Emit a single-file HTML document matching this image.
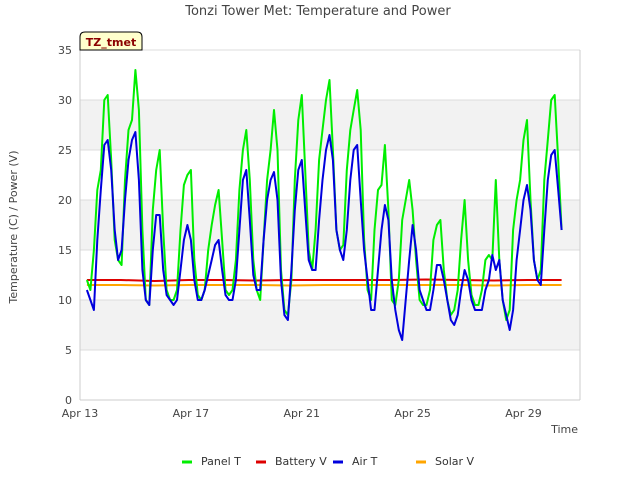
<!DOCTYPE html>
<html><head><meta charset="utf-8"><style>
body{margin:0;background:#fff;font-family:"Liberation Sans","DejaVu Sans",sans-serif}
</style></head><body>
<svg id="chart" width="640" height="480" font-family="DejaVu Sans, Liberation Sans, sans-serif">
<text x="318" y="15" font-size="13" fill="#444" text-anchor="middle">Tonzi Tower Met: Temperature and Power</text>
<g id="plot"></g>
<g>
<path d="M80,50 L80,37 Q80,32 85,32 L137,32 Q142,32 142,37 L142,50 Z" fill="#ffffcc" stroke="#000" stroke-width="1"/>
<text x="111" y="46" font-size="11" font-weight="bold" fill="#8b0000" text-anchor="middle">TZ_tmet</text>
</g>
<text transform="translate(17,227) rotate(-90)" font-size="11" fill="#444" text-anchor="middle">Temperature (C) / Power (V)</text>
<text x="578" y="433" font-size="11" fill="#444" text-anchor="end">Time</text>
<g id="legend"></g>
</svg>
<script>
const startDay=0.25, stepDay=0.125;
const panelT=[12,11,15,21,23,30,30.5,24,16,14,13.5,22,27,28,33,29,17,10,9.5,19,23,25,17,11,10,10,11,17,21.5,22.5,23,14,10.5,10,11,15,17.5,19.5,21,16,11,10.5,11,14,21,25,27,22,14,11,10,16,22,25,29,25,13,9,8.5,12,22,28,30.5,23,15,13,17,24,27,30,32,25,17,15,15.5,23,27,29,31,27,16,11,10,17,21,21.5,25.5,19,10,9.5,12,18,20,22,19,14,10,9.5,9.5,11,16,17.5,18,13,10,8.5,9,11,16,20,14,10.5,9.5,9.5,11,14,14.5,14,22,14,10,8,9,17,20,22,26,28,20,14,12,13,22,26,30,30.5,24,17];
const airT=[11,10,9,16,21,25.5,26,23,17,14,15,20,24,26,26.8,22,13,10,9.5,15,18.5,18.5,13,10.5,10,9.5,10,13,16,17.5,16,12,10,10,11,12.5,14,15.5,16,13,10.5,10,10,12,17,22,23,18,12.5,11,11,16,20,22,22.8,20,12,8.5,8,13,19,23,24,19,14,13,13,18,22,25,26.5,24,17,15,14,17,22,25,25.5,20,15,12,9,9,13,17,19.5,18,12,9,7,6,10,14,17.5,15,11,10,9,9,11,13.5,13.5,12,10,8,7.5,8.5,11,13,12,10,9,9,9,11,12,14.5,13,14,10,8.5,7,9,14,17,20,21.5,19,14,12,11.5,17,22,24.5,25,21,17];
const batteryV=[12,12,11.9,12,12,11.95,12,12,12,12,12.05,12,11.95,12,12];
const solarV=[11.5,11.5,11.45,11.5,11.5,11.5,11.45,11.5,11.5,11.5,11.5,11.5,11.45,11.5,11.5];
const yTicks=[0,5,10,15,20,25,30,35];
const xTickDays=[0,4,8,12,16];
const xTickLabels=["Apr 13","Apr 17","Apr 21","Apr 25","Apr 29"];
const seriesNames=["Panel T","Battery V","Air T","Solar V"];
const seriesColors=["#00ee00","#dd0000","#0000dd","#ffa500"];

const X0=80,X1=580,Y0=400,Y1=50;
const xs=d=>X0+d*27.72;
const ys=v=>Y0-(v/35)*(Y0-Y1);
const NS="http://www.w3.org/2000/svg";
const plot=document.getElementById('plot');
function mk(tag,attrs,parent){const e=document.createElementNS(NS,tag);for(const k in attrs)e.setAttribute(k,attrs[k]);(parent||plot).appendChild(e);return e;}
const bg=mk('rect',{x:X0,y:Y1,width:X1-X0,height:Y0-Y1,fill:'#fff'});


for(let i=0;i<yTicks.length-1;i++){
  if(i%2===1){const b=mk('rect',{x:X0,y:ys(yTicks[i+1]),width:X1-X0,height:ys(yTicks[i])-ys(yTicks[i+1]),fill:'#f2f2f2'});
  
  }
}
yTicks.forEach(v=>{
  const l=mk('line',{x1:X0,x2:X1,y1:ys(v),y2:ys(v),stroke:'#dcdcdc','stroke-width':1});
  
  
  const t=mk('text',{x:X0-8,y:ys(v)+4,'font-size':11,fill:'#444','text-anchor':'end'});
  t.textContent=v;
  
  
});
mk('line',{x1:X0,x2:X0,y1:Y1,y2:Y0,stroke:'#ccc'});
mk('line',{x1:X1,x2:X1,y1:Y1,y2:Y0,stroke:'#ccc'});
mk('line',{x1:X0,x2:X1,y1:Y0,y2:Y0,stroke:'#ccc'});
xTickDays.forEach((d,i)=>{
  const t=mk('text',{x:xs(d),y:Y0+17,'font-size':11,fill:'#444','text-anchor':'middle'});
  t.textContent=xTickLabels[i];
  
  
});
function line(vals,color,name,step){
  const pts=vals.map((v,i)=>xs(startDay+i*step).toFixed(1)+','+ys(v).toFixed(1)).join(' ');
  const p=mk('polyline',{points:pts,fill:'none',stroke:color,'stroke-width':2,'stroke-linejoin':'round'});
  
  
}
const span=(panelT.length-1)*stepDay;
line(solarV,seriesColors[3],'solar-v-line',span/(solarV.length-1));
line(batteryV,seriesColors[1],'battery-v-line',span/(batteryV.length-1));
line(panelT,seriesColors[0],'panel-t-line',stepDay);
line(airT,seriesColors[2],'air-t-line',stepDay);

const lg=document.getElementById('legend');
const lx=[182,256,333,416];
seriesNames.forEach((n,i)=>{
  const g=mk('g',{},lg);
  
  
  mk('line',{x1:lx[i],x2:lx[i]+10,y1:462,y2:462,stroke:seriesColors[i],'stroke-width':3},g);
  const t=mk('text',{x:lx[i]+19,y:465,'font-size':11,fill:'#333'},g);
  t.textContent=n;
});
</script>
</body></html>
